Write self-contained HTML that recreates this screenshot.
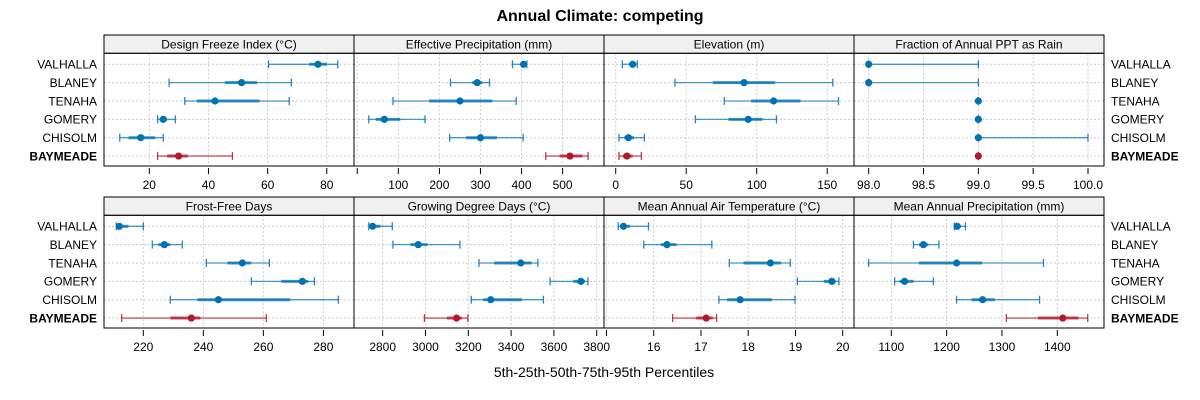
<!DOCTYPE html>
<html><head><meta charset="utf-8">
<style>
html,body{margin:0;padding:0;background:#fff;}
svg{display:block;font-family:"Liberation Sans",Arial,sans-serif;}
</style></head>
<body>
<svg id="chart" width="1200" height="400" viewBox="0 0 1200 400">
<text x="600" y="21" text-anchor="middle" font-size="16" font-weight="bold">Annual Climate: competing</text>
<text x="604" y="377" text-anchor="middle" font-size="14">5th-25th-50th-75th-95th Percentiles</text>
<g id="panels"></g>
</svg>
<script>
// Row categories (top to bottom)
const sites = ["VALHALLA","BLANEY","TENAHA","GOMERY","CHISOLM","BAYMEADE"];
// Panel titles
const titles = ["Design Freeze Index (\u00B0C)","Effective Precipitation (mm)","Elevation (m)","Fraction of Annual PPT as Rain","Frost-Free Days","Growing Degree Days (\u00B0C)","Mean Annual Air Temperature (\u00B0C)","Mean Annual Precipitation (mm)"];
// Each row: [p5, p25, p50, p75, p95]
const designFreeze = [[60.3,74,77,80,83.7],[26.7,45.6,51.2,56.4,68],[32,36.1,42.2,57.3,67.3],[22.8,23.5,24.7,26,28.8],[10,13,17.1,22,24.7],[22.8,26,29.9,33,48.1]];
const effPrecip = [[378,398,405,412,413],[227,280,292,305,322],[87,175,250,329,387],[28,45,66,105,165],[225,265,300,340,404],[459,493,518,548,562]];
const elevation = [[4.7,10,12,14,15.3],[42,69,91,113,154],[77,96,112,131,158],[56.5,80,94,104,114],[2.3,6,9,13,20.3],[2.3,5,8,12,18.2]];
const fracRain = [[98,98,98,98,99],[98,98,98,98,99],[99,99,99,99,99],[99,99,99,99,99],[99,99,99,99,100],[99,99,99,99,99]];
const frostFree = [[211,211.5,212,215,220],[223,225,227,229,233],[241,248,253,256,262],[256,266,273,275,277],[229,238,245,269,285],[212.8,229,236,239,261]];
const gdd = [[2735,2745,2753,2790,2845],[2848,2930,2966,3010,3161],[3250,3320,3445,3496,3525],[3582,3690,3726,3745,3759],[3214,3270,3305,3450,3551],[2995,3100,3145,3170,3198]];
const maat = [[15.25,15.3,15.36,15.5,15.89],[15.79,16.15,16.28,16.48,17.23],[17.6,17.9,18.47,18.7,18.89],[19.04,19.6,19.77,19.85,19.92],[17.38,17.55,17.83,18.5,18.99],[16.4,16.9,17.11,17.25,17.33]];
const map = [[1214,1216,1219,1226,1234],[1140,1150,1158,1167,1186],[1059,1150,1218,1264,1375],[1106,1115,1124,1140,1176],[1218,1245,1265,1287,1368],[1308,1365,1410,1438,1455]];
const panelData = [designFreeze,effPrecip,elevation,fracRain,frostFree,gdd,maat,map];
// Axis domains
const domains = [[4.68,89.2],[-7.9,600.8],[-8.3,169],[97.866,100.146],[206.9,290.2],[2666,3834],[14.948,20.239],[1032.6,1484.4]];
// Tick values and labels
const ticks = [[20,40,60,80],[0,100,200,300,400,500],[0,50,100,150],[98,98.5,99,99.5,100],[220,240,260,280],[2800,3000,3200,3400,3600,3800],[15,16,17,18,19,20],[1100,1200,1300,1400]];
const tickLabels = [["20","40","60","80"],["","100","200","300","400","500"],["0","50","100","150"],["98.0","98.5","99.0","99.5","100.0"],["220","240","260","280"],["2800","3000","3200","3400","3600","3800"],["","16","17","18","19","20"],["1100","1200","1300","1400"]];

const NS="http://www.w3.org/2000/svg";
const root=document.getElementById('panels');
function mk(tag,attrs,parent){const e=document.createElementNS(NS,tag);for(const k in attrs)e.setAttribute(k,attrs[k]);(parent||root).appendChild(e);return e;}
const PW=250, X0=104;
const rowsTop=[{strip:35,top:53.3,bot:166},{strip:197,top:215.3,bot:328}];
const BLUE="#0072B2", RED="#B2182B";
for(let p=0;p<8;p++){
  const r=Math.floor(p/4), c=p%4;
  const x0=X0+c*PW, geo=rowsTop[r];
  const g=mk('g',{});
  
  
  const [lo,hi]=domains[p];
  const xs=v=>x0+(v-lo)/(hi-lo)*PW;
  const ys=i=>geo.top+11+i*18.35;
  const st=mk('rect',{x:x0,y:geo.strip,width:PW,height:geo.top-geo.strip,fill:"#f0f0f0",stroke:"#000","stroke-width":1},g);
  
  
  const tt=mk('text',{x:x0+PW/2,y:geo.strip+13.5,"text-anchor":"middle","font-size":12},g);
  tt.textContent=titles[p];
  
  
  ticks[p].forEach((t,k)=>{
    const x=xs(t);
    if(x>x0+1&&x<x0+PW-1) mk('line',{x1:x,x2:x,y1:geo.top,y2:geo.bot,stroke:"#ccc","stroke-dasharray":"2,2","stroke-width":1},g);
    const tk=mk('line',{x1:x,x2:x,y1:geo.bot+2,y2:geo.bot+8,stroke:"#000","stroke-width":1},g);
    
    
    if(tickLabels[p][k]){
      const tl=mk('text',{x:x,y:geo.bot+23,"text-anchor":"middle","font-size":12},g);
      tl.textContent=tickLabels[p][k];
      
      
    }
  });
  sites.forEach((s,i)=>mk('line',{x1:x0,x2:x0+PW,y1:ys(i),y2:ys(i),stroke:"#ccc","stroke-dasharray":"2,2","stroke-width":1},g));
  panelData[p].forEach((d,i)=>{
    const col=i===5?RED:BLUE, y=ys(i);
    const m=mk('g',{},g);
    
    
    mk('line',{x1:xs(d[0]),x2:xs(d[4]),y1:y,y2:y,stroke:col,"stroke-width":1.3,"stroke-opacity":0.7},m);
    mk('line',{x1:xs(d[0]),x2:xs(d[0]),y1:y-4,y2:y+4,stroke:col,"stroke-width":1.3,"stroke-opacity":0.85},m);
    mk('line',{x1:xs(d[4]),x2:xs(d[4]),y1:y-4,y2:y+4,stroke:col,"stroke-width":1.3,"stroke-opacity":0.85},m);
    mk('line',{x1:xs(d[1]),x2:xs(d[3]),y1:y,y2:y,stroke:col,"stroke-width":3,"stroke-opacity":0.75},m);
    const dot=mk('circle',{cx:xs(d[2]),cy:y,r:3.6,fill:col},m);
    
    
  });
  mk('rect',{x:x0,y:geo.top,width:PW,height:geo.bot-geo.top,fill:"none",stroke:"#000","stroke-width":1},g);
}
rowsTop.forEach(geo=>{
  sites.forEach((s,i)=>{
    const y=geo.top+11+i*18.35+4.3;
    const bold=i===5?"bold":"normal";
    const l=mk('text',{x:97,y:y,"text-anchor":"end","font-size":12,"font-weight":bold});
    l.textContent=s;
    
    
    const rr=mk('text',{x:1111,y:y,"text-anchor":"start","font-size":12,"font-weight":bold});
    rr.textContent=s;
    
    
  });
});
</script>
</body></html>
